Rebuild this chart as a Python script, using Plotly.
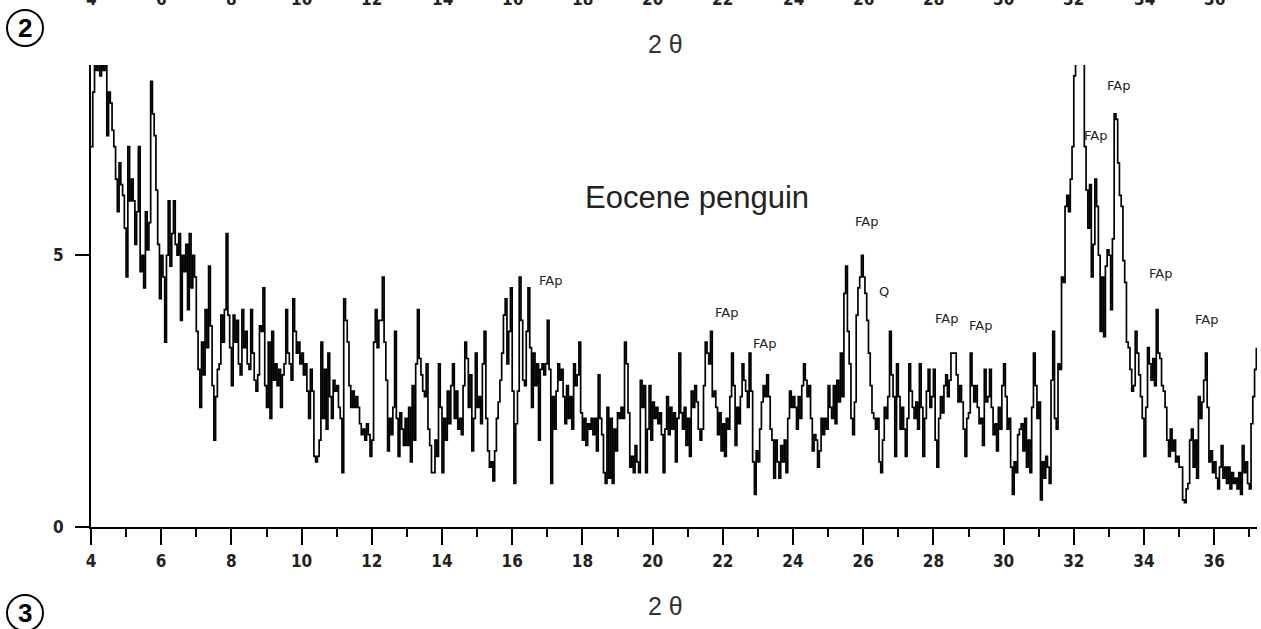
import plotly.graph_objects as go

# ---------------- data (2-theta step scan, step 0.05 deg) ----------------
STEP = 0.05

seg_a_start = 4.0
seg_a = [7.0, 8.0, 9.0, 8.4, 9.0, 8.3, 8.7, 8.4, 8.8, 7.2,
         8.0, 7.8, 7.3, 7.0, 6.4, 5.8, 6.7, 6.3, 6.1, 5.5,
         4.6, 7.0, 6.0, 6.4, 6.0, 5.2, 5.8, 7.0, 4.7, 5.0,
         4.4, 5.8, 5.1, 5.6, 8.2, 7.6, 7.2, 6.2, 5.2, 4.2,
         5.0, 4.6, 3.4, 5.0, 6.0, 4.8, 5.4, 6.0, 5.2, 5.0,
         5.4, 3.8, 5.0, 4.7, 5.2, 4.0, 5.4, 4.4, 5.0, 4.6,
         3.6, 2.9, 2.2, 3.4, 2.8, 4.0, 3.3, 4.8, 3.7, 2.6,
         1.6, 2.4, 2.9, 3.0, 3.9, 3.4, 4.0, 5.4, 3.9, 3.3]

seg_b_start = 8.0
seg_b = [2.6, 3.9, 3.4, 3.8, 3.0, 2.8, 4.0, 3.3, 3.6, 3.0,
         2.9, 4.0, 3.2, 2.7, 2.5, 2.8, 3.7, 3.6, 4.4, 2.6,
         2.2, 3.4, 2.0, 3.6, 2.7, 3.0, 2.6, 2.9, 2.2, 2.8,
         3.0, 4.0, 3.2, 3.0, 2.7, 4.2, 3.6, 3.2, 3.4, 3.0,
         3.2, 2.8, 3.0, 2.5, 2.0, 2.9, 2.5, 1.3, 1.2, 1.3,
         1.6, 3.4, 2.0, 2.9, 1.8, 3.2, 2.4, 2.0, 2.7, 2.5,
         2.6, 2.2, 2.0, 1.0, 4.2, 3.8, 3.4, 2.6, 2.2, 2.5,
         2.2, 2.4, 2.2, 1.9, 1.7, 1.8, 1.6, 1.9, 1.7, 1.3,
         1.6, 3.4, 4.0, 3.3, 3.8]

seg_c_start = 12.25
seg_c = [3.8, 4.6, 3.4, 2.7, 1.4, 2.0, 1.7, 2.2, 3.6, 2.0,
         1.3, 2.1, 1.8, 1.5, 2.0, 1.5, 2.2, 1.2, 2.6, 1.6,
         3.0, 4.0, 3.1, 2.8, 2.5, 2.4, 3.0, 1.8, 1.5, 1.0,
         1.0, 1.6, 1.3, 3.0, 2.2, 1.0, 2.0, 1.6, 2.5, 1.9,
         2.6, 3.0, 2.0, 2.5, 1.8, 2.0, 1.7, 2.6, 3.4, 3.1,
         2.2, 2.8, 1.4, 2.0, 3.2, 2.2, 2.4, 1.9, 3.0, 3.6,
         2.0, 1.4, 1.1, 1.2, 0.85, 1.4, 2.0, 2.3, 2.7, 3.2,
         3.9, 4.2, 3.0, 3.6, 4.4, 2.5, 0.8, 1.9, 2.5, 4.6,
         3.8, 2.7, 2.6]

seg_d_start = 16.4
seg_d = [3.6, 4.4, 3.3, 2.2, 3.2, 2.6, 3.0, 1.6, 2.9, 3.0,
         2.8, 3.0, 3.8, 2.9, 0.8, 2.4, 1.8, 2.5, 3.0, 2.7,
         2.9, 2.4, 1.9, 2.6, 2.0, 2.4, 1.8, 3.0, 2.6, 2.8,
         3.4, 2.1, 1.6, 2.0, 1.5, 1.9, 1.8, 2.0, 1.7, 2.0,
         1.4, 2.8, 2.0, 1.7, 1.0, 0.8, 2.2, 0.9, 2.0, 0.8,
         1.8, 1.4, 2.1, 2.0, 2.2, 2.0, 3.4, 3.0, 2.1, 1.1,
         1.3, 1.0, 1.5, 1.2, 1.0, 2.7, 2.2, 2.6, 1.0, 1.8,
         2.6, 1.6, 2.3, 2.0, 2.2, 1.9, 2.1, 1.7, 1.0, 1.8, 2.4]

seg_e_start = 20.45
seg_e = [1.7, 2.2, 1.8, 2.1, 1.2, 2.0, 3.2, 2.1, 1.8, 2.2,
         1.5, 2.0, 1.3, 2.5, 2.2, 2.6, 2.3, 1.8, 1.6, 1.8,
         2.6, 3.4, 3.2, 3.0, 3.6, 2.4, 2.5, 2.2, 1.7, 2.1,
         1.4, 1.9, 1.3, 2.0, 1.8, 2.4, 3.2, 2.6, 1.5, 2.2,
         1.9, 2.4, 3.0, 2.7, 2.5, 2.2, 3.2, 2.5, 1.2, 0.6,
         1.4, 1.2, 1.8, 2.3, 2.6, 2.4, 2.8, 2.4, 1.8, 1.6,
         0.9, 1.6, 1.2, 0.9, 1.5, 1.2, 1.6, 1.0, 2.0, 2.5,
         2.2, 2.4, 2.2, 1.8, 2.4, 2.0, 2.6, 3.0, 2.7, 2.4,
         2.6, 2.0, 1.4, 1.7]

seg_f_start = 24.65
seg_f = [1.6, 1.1, 1.4, 2.0, 1.7, 2.0, 1.8, 2.6, 2.2, 2.0,
         2.6, 1.9, 2.7, 2.3, 3.2, 2.4, 4.3, 4.8, 3.6, 3.0,
         2.0, 1.7, 2.3, 3.9, 4.4, 4.6, 5.0, 4.6, 4.3, 3.8,
         3.2, 2.6, 2.1, 2.0, 1.8, 2.0, 1.2, 1.0, 1.6, 2.2,
         2.0, 2.4, 3.6, 2.8, 2.4, 1.3, 3.0, 2.4, 1.8, 2.2,
         1.8, 1.3, 2.0, 3.0, 2.5, 2.2, 2.0, 2.3, 1.8, 3.0,
         2.2, 1.3, 2.0, 2.5, 2.9, 2.2, 2.4, 2.9, 1.6, 1.1,
         2.0, 2.4, 2.1, 2.6, 2.8, 2.4, 2.7, 3.2, 3.2, 3.2,
         2.8, 2.3, 2.6]

seg_g_start = 28.8
seg_g = [2.3, 1.8, 1.3, 2.0, 2.1, 3.2, 2.6, 2.3, 2.6, 2.2,
         1.9, 2.0, 1.5, 2.9, 2.3, 2.4, 2.9, 2.2, 1.7, 1.9,
         1.4, 2.2, 1.8, 2.6, 3.0, 2.4, 1.8, 2.0, 1.1, 0.6,
         1.2, 1.0, 1.7, 1.8, 1.9, 1.4, 2.0, 1.1, 1.6, 1.0,
         2.2, 3.2, 2.6, 2.0, 2.3, 0.5, 1.2, 0.9, 1.3, 1.1,
         0.8, 2.7, 3.6, 2.0, 1.8, 3.0, 2.9, 4.6, 4.5, 5.9,
         6.1, 5.8, 6.4, 7.0, 8.3, 9.0, 9.5, 9.5, 10.0, 9.2,
         7.0, 6.2, 5.5, 6.3, 4.6, 5.2, 6.4, 5.9, 5.0, 3.6]

seg_h_start = 32.8
seg_h = [4.6, 3.5, 4.8, 5.1, 5.0, 4.0, 5.3, 7.6, 7.5, 6.7,
         6.1, 5.9, 4.9, 4.5, 3.4, 3.3, 2.9, 2.5, 2.6, 3.6,
         3.2, 2.8, 2.4, 2.0, 1.3, 2.2, 3.3, 3.0, 2.7, 3.1,
         2.6, 4.0, 3.2, 3.1, 2.6, 2.5, 2.2, 1.6, 1.3, 1.8,
         1.4, 1.6, 1.2, 1.3, 1.1, 1.1, 0.5, 0.45, 0.7, 0.8,
         1.6, 1.8, 1.1, 1.6, 0.9, 2.4, 2.0, 2.3, 2.7, 3.2,
         2.2, 1.2, 1.4, 1.0, 1.2, 0.9, 0.7, 1.1, 1.5, 0.9,
         1.1, 0.8, 1.1, 0.7, 1.0, 0.8, 0.9, 0.7, 1.0, 0.6,
         1.5, 1.0, 1.2, 0.8, 0.7, 1.9, 2.4, 2.9, 3.3]

# peak labels
peak_labels = ["FAp", "FAp", "FAp", "FAp", "Q", "FAp", "FAp", "FAp", "FAp", "FAp", "FAp"]
peak_x = [17.08, 22.10, 23.20, 26.10, 26.58, 28.36, 29.35, 32.61, 33.26, 34.48, 35.79]
peak_y = [4.54, 3.94, 3.38, 5.63, 4.33, 3.84, 3.70, 7.20, 8.13, 4.67, 3.82]

x_ticks = list(range(4, 37, 2))
y_ticks = [0, 5]

# ---------------- assemble ----------------
segments = [(seg_a_start, seg_a), (seg_b_start, seg_b), (seg_c_start, seg_c),
            (seg_d_start, seg_d), (seg_e_start, seg_e), (seg_f_start, seg_f),
            (seg_g_start, seg_g), (seg_h_start, seg_h)]
two_theta, intensity = [], []
for start, vals in segments:
    for i, v in enumerate(vals):
        two_theta.append(round(start + i * STEP, 3))
        intensity.append(v)

W, H = 1261, 629
L, R, T, B = 91, 1257, 65, 527


def px(xp):
    return (xp - L) / (R - L)


def py(yp):
    return (B - yp) / (B - T)


fig = go.Figure()
fig.add_trace(go.Scatter(x=two_theta, y=intensity, mode="lines",
                         line=dict(color="black", width=1.7, shape="hv"),
                         showlegend=False, hoverinfo="skip"))

tick_font = dict(family="Liberation Sans Narrow, DejaVu Sans Condensed, Liberation Sans, sans-serif",
                 size=17, color="#222", weight="bold")

fig.update_layout(
    width=W, height=H,
    margin=dict(l=L, r=W - R, t=T, b=H - B, autoexpand=False),
    paper_bgcolor="white", plot_bgcolor="white",
    font=dict(family="Liberation Sans, Arial, sans-serif", color="#222"),
    xaxis=dict(range=[4, 4 + (R - L) / 35.1], tickvals=x_ticks, ticks="outside",
               ticklen=16, tickwidth=2, tickcolor="black", showline=True,
               linecolor="black", linewidth=2, showgrid=False, zeroline=False,
               tickfont=tick_font, ticklabelstandoff=2,
               minor=dict(dtick=1, tick0=5, ticks="outside", ticklen=8,
                          tickwidth=2, tickcolor="black", showgrid=False)),
    yaxis=dict(range=[0, (B - T) / 54.35], tickvals=y_ticks, ticks="outside",
               ticklen=14, tickwidth=2, tickcolor="black", showline=True,
               linecolor="black", linewidth=2, showgrid=False, zeroline=False,
               tickfont=tick_font, ticklabelstandoff=8),
)

ann = []
for t, xv, yv in zip(peak_labels, peak_x, peak_y):
    ann.append(dict(x=xv, y=yv, xref="x", yref="y", text=t, showarrow=False,
                    font=dict(family="DejaVu Sans", size=13, color="#222"),
                    xanchor="center", yanchor="middle"))

ann.append(dict(x=21.27, y=6.07, xref="x", yref="y", text="Eocene penguin",
                showarrow=False, font=dict(family="Liberation Sans, Arial", size=31, color="#222"),
                xanchor="center", yanchor="middle"))

# axis titles (bottom of this panel and top of the panel above)
ann.append(dict(x=px(665), y=py(606), xref="paper", yref="paper", text="2 θ",
                showarrow=False, font=dict(family="Liberation Sans", size=25, color="#333"),
                xanchor="center", yanchor="middle"))
ann.append(dict(x=px(665), y=py(44), xref="paper", yref="paper", text="2 θ",
                showarrow=False, font=dict(family="Liberation Sans", size=25, color="#333"),
                xanchor="center", yanchor="middle"))

# cut-off tick labels of the panel above
for v in x_ticks:
    ann.append(dict(x=v, y=py(-1), xref="x", yref="paper", text=str(v), showarrow=False,
                    font=tick_font, xanchor="center", yanchor="middle"))

# panel numbers in circles
for label, cy in (("2", 28), ("3", 613)):
    fig.add_shape(type="circle", xref="paper", yref="paper",
                  x0=px(7), x1=px(43), y0=py(cy - 18), y1=py(cy + 18),
                  line=dict(color="black", width=2))
    ann.append(dict(x=px(25), y=py(cy), xref="paper", yref="paper", text=f"<b>{label}</b>",
                    showarrow=False, font=dict(family="Liberation Sans, Arial", size=26, color="black"),
                    xanchor="center", yanchor="middle"))

fig.update_layout(annotations=ann)
fig.write_html("out.html", config={"displayModeBar": False},
               post_script="document.body.style.margin='0';document.body.style.padding='0';")
